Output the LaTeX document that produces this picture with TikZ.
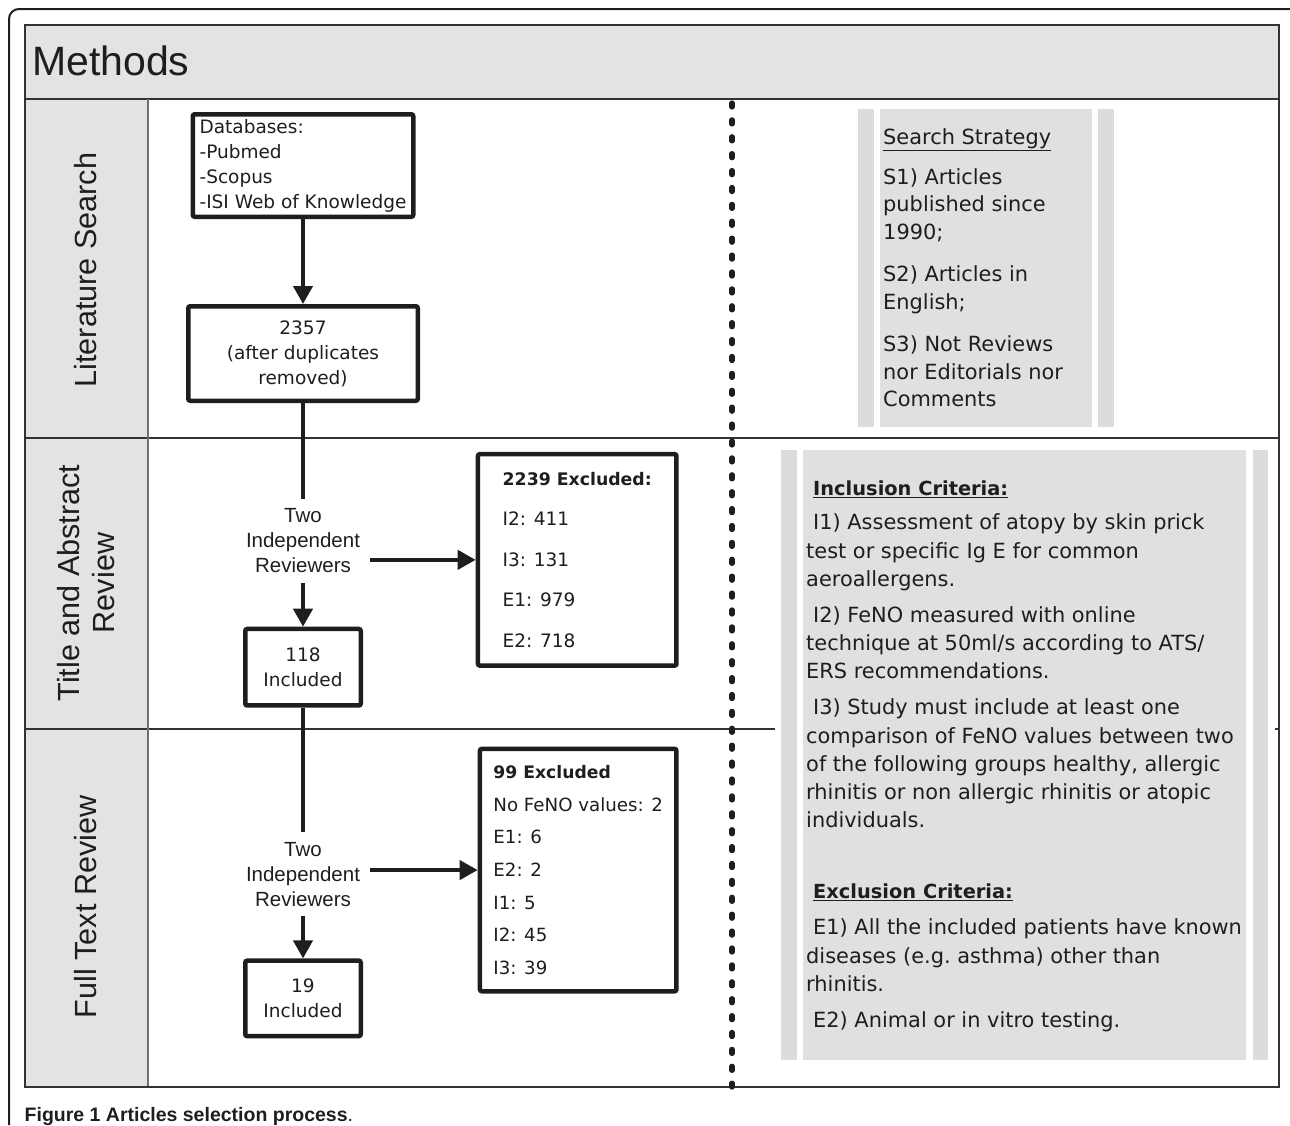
\documentclass[tikz,border=0pt]{standalone}
\usepackage{fontspec}
\setmainfont{DejaVu Sans}
\newfontfamily\arialfont{Liberation Sans}
\usetikzlibrary{graphs,positioning,arrows.meta}
\definecolor{ink}{HTML}{1E1E1E}
\definecolor{lanegray}{HTML}{E3E3E3}
\definecolor{panelgray}{HTML}{E0E0E0}
\definecolor{stripgray}{HTML}{DCDCDC}
\definecolor{frameline}{HTML}{333333}
\tikzset{
    flowbox/.style ={
        shape=rectangle,
        draw=ink,
        line width=4.5pt,
        rounded corners=2pt,
        fill=white,
        text=ink,
        align=center,
        font=\fontsize{18.5}{25}\selectfont
    },
    exclbox/.style ={
        flowbox,
        align=left,
        inner xsep=4pt
    },
    reviewer/.style ={
        shape=rectangle,
        inner sep=10pt,
        text=ink,
        align=center,
        font=\arialfont\fontsize{20.5}{25}\selectfont
    },
    lane/.style ={
        rotate=90,
        text=ink,
        align=center,
        font=\arialfont\fontsize{30.6}{35.5}\selectfont
    },
    paneltext/.style ={
        anchor=north west,
        inner sep=0pt,
        align=left,
        text=ink
    }
}

\begin{document}
\begin{tikzpicture}[x=1pt,y=-1pt,>={Triangle[width=19pt,length=18pt]}]
    \useasboundingbox (0,0) rectangle (1290,1125);
    % frame and lanes
    \fill[lanegray] (25,25) rectangle (1279,99);
    \fill[lanegray] (25,99) rectangle (148,1087);
    \draw[frameline,line width=1.5pt] (25,99) -- (1279,99);
    \draw[frameline,line width=1.2pt] (25,438) -- (1279,438);
    \draw[frameline,line width=1.2pt] (25,729) -- (1279,729);
    \draw[frameline!70,line width=1.5pt] (148,99) -- (148,1087);
    \draw[frameline,line width=1.5pt] (25,25) rectangle (1279,1087);
    \node[anchor=base west,inner sep=0pt,text=ink,font=\arialfont\fontsize{41}{41}\selectfont] (methods) at (32,75) {Methods};
    \node[lane] (litsearch) at (86,270) {Literature Search};
    \node[lane] (titleabs) at (86,583) {Title and Abstract\\Review};
    \node[lane] (fulltext) at (86,907) {Full Text Review};
    % search strategy panel
    \fill[stripgray] (858,109) rectangle (874,427);
    \fill[panelgray] (880,109) rectangle (1092,427);
    \fill[stripgray] (1098,109) rectangle (1114,427);
    \node[paneltext,font=\fontsize{20.9}{27.7}\selectfont] (strategy) at (883,128) {\underline{Search Strategy}\\[12.5pt]
        S1) Articles\\published since\\1990;\\[14.3pt]
        S2) Articles in\\English;\\[14.3pt]
        S3) Not Reviews\\nor Editorials nor\\Comments};
    % criteria panel
    \fill[white] (775,444) rectangle (1275,1066);
    \fill[stripgray] (781,450) rectangle (797,1060);
    \fill[panelgray] (803,450) rectangle (1246,1060);
    \fill[stripgray] (1253,450) rectangle (1268,1060);
    \node[paneltext,font=\fontsize{20.9}{28.3}\selectfont] (criteria) at (806,481) {\hspace*{7pt}{\fontsize{19.4}{28.3}\selectfont\bfseries\underline{Inclusion Criteria:}}\\[5.7pt]
        \hspace*{7pt}I1) Assessment of atopy by skin prick\\test or specific Ig E for common\\aeroallergens.\\[7.5pt]
        \hspace*{7pt}I2) FeNO measured with online\\technique at 50ml/s according to ATS/\\ERS recommendations.\\[7.5pt]
        \hspace*{7pt}I3) Study must include at least one\\comparison of FeNO values between two\\of the following groups healthy, allergic\\rhinitis or non allergic rhinitis or atopic\\individuals.\\[42.7pt]
        \hspace*{7pt}{\fontsize{19.4}{28.3}\selectfont\bfseries\underline{Exclusion Criteria:}}\\[7.7pt]
        \hspace*{7pt}E1) All the included patients have known\\diseases (e.g.\ asthma) other than\\rhinitis.\\[7.5pt]
        \hspace*{7pt}E2) Animal or in vitro testing.};
    % dashed separator
    \draw[ink,line width=5.3pt,line cap=round,dash pattern=on 4pt off 12.9pt] (732,103) -- (732,1087);
    % flow
    \node[flowbox,align=left,minimum width=220.5pt,minimum height=102.5pt] (db) at (303,165.5) {Databases:\\-Pubmed\\-Scopus\\-ISI Web of Knowledge};
    \node[flowbox,minimum width=229.5pt,minimum height=94.5pt,below=85pt of db] (2357) {2357\\(after duplicates\\removed)};
    \node[reviewer,below=95.5pt of 2357] (rev1) {Two\\Independent\\Reviewers};
    \node[flowbox,minimum width=115.5pt,minimum height=76.5pt,below=43.5pt of rev1] (118) {118\\Included};
    \node[reviewer,below=124pt of 118] (rev2) {Two\\Independent\\Reviewers};
    \node[flowbox,minimum width=115.5pt,minimum height=75.5pt,below=42pt of rev2] (19) {19\\Included};
    \node[exclbox,minimum width=198.5pt,minimum height=211.5pt,right=105.5pt of rev1,yshift=-19pt,font=\fontsize{18.5}{40.4}\selectfont] (2239) {{\fontsize{17.3}{40.4}\selectfont\bfseries 2239 Excluded:}\\I2: 411\\I3: 131\\E1: 979\\E2: 718};
    \node[exclbox,minimum width=196.5pt,minimum height=242.5pt,right=107.5pt of rev2,yshift=4pt,font=\fontsize{18.2}{32.7}\selectfont] (99) {{\fontsize{17.2}{32.7}\selectfont\bfseries 99 Excluded}\\No FeNO values: 2\\E1: 6\\E2: 2\\I1: 5\\I2: 45\\I3: 39};
    \begin{scope}[line width=4pt,color=ink]
        \graph{
            (db)->(2357)--(rev1)->(118)--(rev2)->(19);
        };
        \draw[->] (rev1.east |- 2239.west) -- (2239.west);
        \draw[->] (rev2.east |- 99.west) -- (99.west);
    \end{scope}
    % outer border and caption
    \draw[ink,line width=2pt,rounded corners=10pt] (9,1125) |- (1290,9);
    \node[anchor=base west,inner sep=0pt,text=ink,font=\arialfont\fontsize{19.5}{20}\selectfont] (caption) at (24.5,1121) {\textbf{Figure 1 Articles selection process}.};
\end{tikzpicture}
\end{document}
